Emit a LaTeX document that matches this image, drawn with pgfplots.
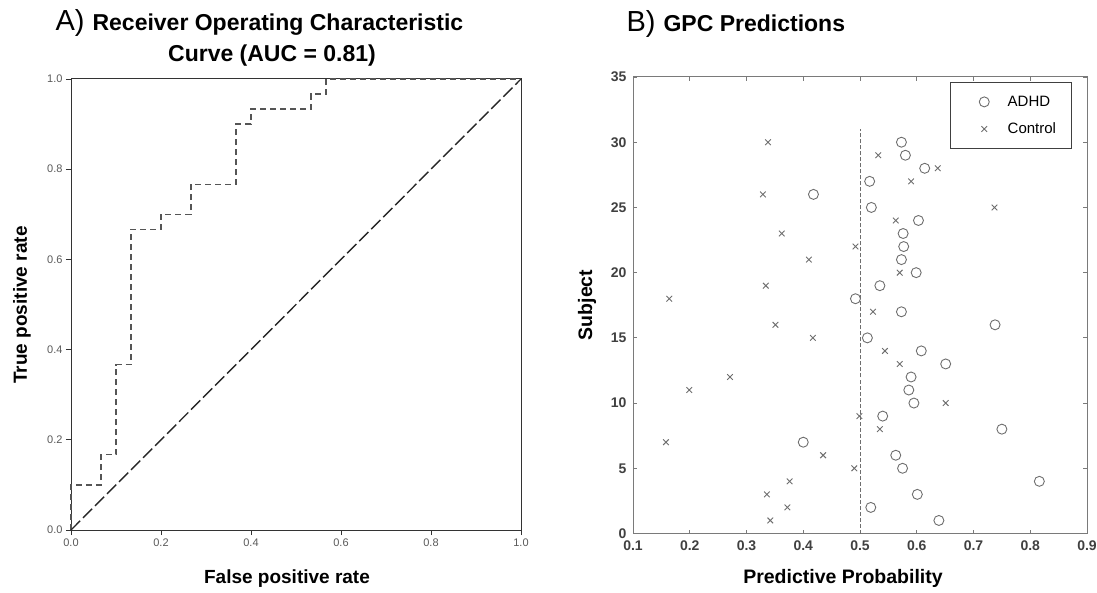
\documentclass[border=0pt]{standalone}
\usepackage{fontspec}
\setmainfont{Liberation Sans}
\usepackage{pgfplots}
\pgfplotsset{compat=1.18}
\definecolor{mk}{HTML}{6E6E6E}
\definecolor{rocc}{HTML}{555555}
\definecolor{axc}{HTML}{7A7A7A}

\begin{document}
\begin{tikzpicture}[x=1pt,y=1pt]
\useasboundingbox (0,0) rectangle (1097,592);

% A) ROC curve
\begin{axis}[
  at={(71pt,62pt)}, anchor=south west, scale only axis,
  width=450pt, height=451pt,
  xmin=0, xmax=1, ymin=0, ymax=1,
  xtick={0,0.2,0.4,0.6,0.8,1}, ytick={0,0.2,0.4,0.6,0.8,1},
  tick align=outside, xtick pos=lower, ytick pos=left,
  major tick length=5pt,
  axis line style={black!80, line width=1pt},
  tick style={black!80, line width=0.8pt},
  ticklabel style={font=\fontsize{11}{12}\selectfont, text=black!65},
  /pgf/number format/fixed, /pgf/number format/fixed zerofill,
  /pgf/number format/precision=1, /pgf/number format/assume math mode=true,
  clip=false]
\addplot[rocc, line width=1.3pt, dash pattern=on 6pt off 4pt] coordinates {
  (0,0) (0,0.1) (0.0667,0.1) (0.0667,0.1667) (0.1,0.1667) (0.1,0.3667)
  (0.1333,0.3667) (0.1333,0.6667) (0.2,0.6667) (0.2,0.7) (0.2667,0.7)
  (0.2667,0.7667) (0.3667,0.7667) (0.3667,0.9) (0.4,0.9) (0.4,0.9333)
  (0.5333,0.9333) (0.5333,0.9667) (0.5667,0.9667) (0.5667,1) (1,1)};
\addplot[black!85, line width=1.4pt, dash pattern=on 13pt off 4pt] coordinates {(0,0) (1,1)};
\end{axis}

% B) GPC predictions
\begin{axis}[
  at={(633pt,58.5pt)}, anchor=south west, scale only axis,
  width=454pt, height=456.5pt,
  xmin=0.1, xmax=0.9, ymin=0, ymax=35,
  xtick={0.1,0.2,0.3,0.4,0.5,0.6,0.7,0.8,0.9}, ytick={0,5,10,15,20,25,30,35},
  tick align=inside, major tick length=4pt,
  axis line style={axc, line width=1pt},
  tick style={axc, line width=0.8pt},
  ticklabel style={font=\bfseries\fontsize{14}{16}\selectfont, text=black!75},
  yticklabel style={xshift=-3pt},
  xticklabel style={yshift=-4pt},
  /pgf/number format/fixed, /pgf/number format/precision=1,
  /pgf/number format/assume math mode=true,
  legend image code/.code={\path (0pt,0pt) (23pt,0pt);
    \draw[#1] plot[only marks] coordinates {(18pt,0pt)};},
  legend style={at={(0.967,0.989)}, anchor=north east, draw=black!75,
    line width=0.9pt, font=\fontsize{15}{17}\selectfont,
    nodes={inner sep=0pt}, inner xsep=15.5pt, inner ysep=13.5pt, row sep=15pt,
    /tikz/every odd column/.append style={column sep=18pt}},
  legend cell align=left,
  clip=false]
\addplot[only marks, mark=o, mark size=5pt, mk, line width=0.9pt] coordinates {
  (0.639,1) (0.519,2) (0.601,3) (0.816,4) (0.575,5) (0.563,6) (0.400,7)
  (0.750,8) (0.540,9) (0.595,10) (0.586,11) (0.590,12) (0.651,13) (0.608,14)
  (0.513,15) (0.738,16) (0.573,17) (0.492,18) (0.535,19) (0.599,20)
  (0.573,21) (0.577,22) (0.576,23) (0.603,24) (0.520,25) (0.418,26)
  (0.517,27) (0.614,28) (0.580,29) (0.573,30)};
\addlegendentry{ADHD}
\addplot[only marks, mark=x, mark size=4pt, mk, line width=0.9pt] coordinates {
  (0.342,1) (0.372,2) (0.336,3) (0.376,4) (0.490,5) (0.435,6) (0.158,7)
  (0.535,8) (0.499,9) (0.651,10) (0.199,11) (0.271,12) (0.570,13) (0.544,14)
  (0.417,15) (0.351,16) (0.523,17) (0.164,18) (0.334,19) (0.570,20)
  (0.410,21) (0.492,22) (0.362,23) (0.563,24) (0.737,25) (0.329,26)
  (0.590,27) (0.637,28) (0.532,29) (0.338,30)};
\addlegendentry{Control}
\addplot[mk, line width=1pt, dash pattern=on 4pt off 2pt, forget plot] coordinates {(0.5,0) (0.5,31)};
\end{axis}

% titles and axis labels
\node[anchor=base west] at (52,561)
  {\fontsize{29}{31}\selectfont A) \bfseries\fontsize{23}{27}\selectfont Receiver Operating Characteristic};
\node[anchor=base, font=\bfseries\fontsize{23}{27}\selectfont] at (272,530.5) {Curve (AUC = 0.81)};
\node[anchor=base west] at (623,560)
  {\fontsize{29}{31}\selectfont B) \bfseries\fontsize{23}{27}\selectfont GPC Predictions};
\node[anchor=base, font=\bfseries\fontsize{19}{22}\selectfont] at (287,9) {False positive rate};
\node[anchor=base, rotate=90, font=\bfseries\fontsize{19}{22}\selectfont] at (27,287) {True positive rate};
\node[anchor=base, font=\bfseries\fontsize{19.5}{22}\selectfont] at (843,9) {Predictive Probability};
\node[anchor=base, rotate=90, font=\bfseries\fontsize{19.5}{22}\selectfont] at (592,287) {Subject};
\end{tikzpicture}
\end{document}
